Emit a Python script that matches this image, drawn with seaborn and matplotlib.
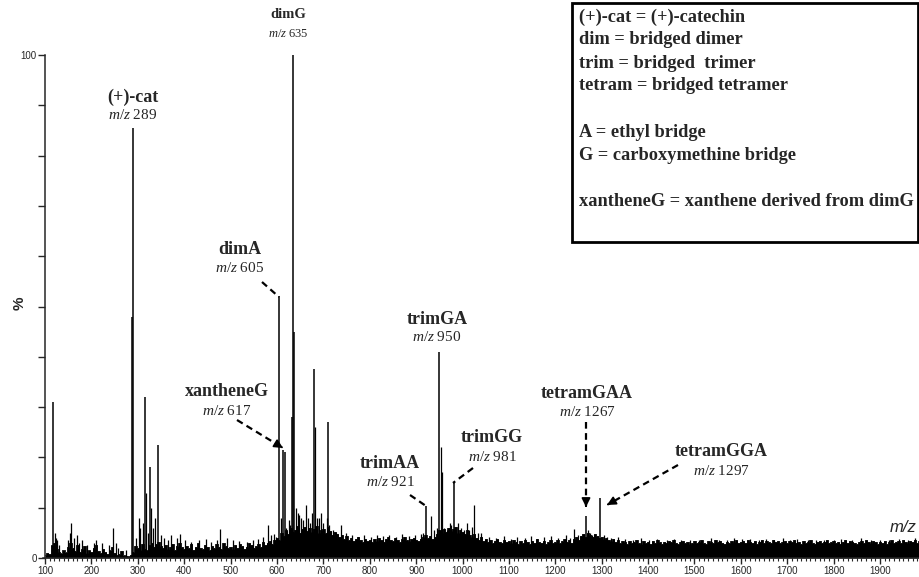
import numpy as np
import pandas as pd
import matplotlib
matplotlib.use("Agg")
import matplotlib.pyplot as plt
import seaborn as sns
from matplotlib.patches import Rectangle

# ---------------- data ----------------
# main labelled / prominent peaks (m/z, relative intensity %)
peak_mz = [118, 288, 289, 316, 326, 343, 605, 613, 617, 633, 635, 636, 679, 709, 921, 950, 981, 1267, 1297]
peak_int = [31, 48, 85.5, 32, 18, 22.5, 52, 21.5, 21, 28, 100, 45, 37.5, 27, 10.3, 41, 15, 8.3, 12]

# minor spikes
minor_mz = [122, 124, 126, 131, 150, 153, 155, 163, 168, 174, 180, 190, 205, 209, 222, 238, 247, 252, 258, 275,
            296, 302, 305, 312, 318, 322, 329, 333, 338, 350, 356, 365, 372, 384, 392, 401, 415, 432, 446, 458,
            470, 477, 492, 505, 518, 535, 548, 560, 570, 581, 588, 594, 599, 609, 620, 625, 628, 641, 645, 648,
            652, 656, 663, 667, 672, 676, 681, 686, 691, 694, 699, 707, 713, 720, 728, 737, 748, 762, 775, 788,
            803, 815, 828, 842, 856, 870, 884, 897, 910, 915, 933, 938, 944, 953, 956, 961, 966, 972, 976, 986,
            990, 996, 1003, 1009, 1015, 1020, 1025, 1033, 1040, 1058, 1072, 1090, 1105, 1118, 1134, 1148, 1160, 1175, 1190, 1205,
            1222, 1231, 1240, 1248, 1255, 1262, 1270, 1275, 1280, 1287, 1292, 1305, 1312, 1320, 1335, 1350, 1368, 1385, 1402, 1420,
            1440, 1455, 1470, 1490, 1510, 1535, 1552, 1570, 1585, 1602, 1620, 1640, 1655, 1672, 1690, 1705, 1722, 1745, 1762, 1780,
            1800, 1815, 1840, 1860, 1880, 1900, 1920, 1940, 1960, 1975]
minor_int = [5, 4, 3.5, 2.5, 3.5, 5, 7, 4, 4.5, 3, 3.5, 2.5, 3, 3.5, 3, 2.5, 6, 3, 2, 1.5,
             4, 8, 6, 7, 13, 5, 10, 6, 8, 4.5, 4, 3.5, 4.5, 4, 4.8, 3.5, 3.2, 3.5, 3.8, 3.2,
             3.5, 5.8, 4, 3.6, 3.4, 3.2, 3.6, 3.8, 4.2, 6.6, 4.5, 4.8, 4.2, 8, 6, 7.5, 6.5, 10, 9, 8.5,
             8, 7.5, 10.5, 8, 7, 9, 26, 8, 8, 9, 7, 8, 6.5, 5.5, 5, 6.6, 5, 4.5, 4.2, 4.6,
             4.2, 4.5, 4.4, 4.6, 4.2, 4.8, 4.4, 4.6, 4.8, 5, 8.3, 5.5, 6, 22, 17, 6, 5.6, 7, 6.5, 6,
             7, 6, 5.5, 7, 5.6, 6.2, 10.5, 5, 5, 4.2, 4, 4.4, 3.8, 4.2, 4, 4.4, 3.8, 4.2, 4.3, 4,
             4.5, 4, 5.8, 4.6, 4.4, 4.8, 5.5, 5, 4.6, 4.2, 4.4, 4.5, 4.2, 4, 4.2, 3.8, 3.6, 3.9, 3.6, 3.7,
             3.5, 3.8, 3.5, 3.6, 3.5, 4, 3.6, 3.5, 3.9, 3.7, 3.8, 3.6, 3.8, 3.5, 3.9, 3.6, 3.7, 3.5, 3.6, 3.5,
             3.6, 3.8, 3.6, 3.9, 3.5, 3.6, 3.5, 3.8, 3.6, 3.9]

# chemical noise envelope, every 5 m/z starting at 100
noise_start = 100
noise_step = 5
noise_int = [
    0.6, 1.0, 0.8, 2.5, 3.0, 1.8, 1.2, 0.9, 1.5, 1.1, 2.2, 3.0, 2.0, 1.4, 2.6, 1.2, 1.8, 2.4, 1.0, 1.5,
    1.2, 2.0, 2.6, 1.4, 1.0, 1.8, 1.2, 0.8, 1.5, 2.2, 1.0, 0.6, 0.8, 1.4, 0.5, 0.4, 0.3, 0.6, 1.2, 2.4,
    2.0, 1.6, 2.8, 1.8, 1.5, 2.5, 3.0, 2.2, 2.8, 3.2, 2.4, 2.0, 2.6, 1.8, 2.2, 2.8, 1.6, 2.4, 3.0, 2.2,
    1.8, 2.4, 2.0, 2.8, 1.6, 2.2, 3.0, 2.0, 1.8, 2.6, 2.2, 1.6, 2.4, 2.0, 2.8, 2.2, 1.8, 3.0, 2.4, 2.0,
    2.2, 1.8, 2.6, 2.0, 2.8, 2.4, 1.8, 2.2, 3.0, 2.6, 2.0, 2.4, 2.8, 2.2, 3.2, 2.6, 3.0, 3.4, 2.8, 3.6,
    4.0, 3.6, 5.0, 4.4, 5.5, 4.8, 6.0, 5.2, 5.6, 6.4, 5.0, 5.8, 6.2, 5.4, 6.0, 5.2, 5.8, 6.4, 5.0, 5.6,
    5.8, 5.0, 6.2, 5.4, 4.6, 5.2, 4.8, 4.2, 4.6, 3.8, 4.4, 3.6, 4.0, 3.4, 3.8, 4.2, 3.6, 3.2, 3.8, 3.4,
    3.6, 3.2, 3.8, 3.4, 4.0, 3.6, 3.2, 3.8, 4.2, 3.6, 3.4, 4.0, 3.6, 3.2, 3.8, 4.2, 3.6, 3.4, 3.8, 4.0,
    3.6, 3.4, 3.8, 4.2, 4.6, 4.0, 4.4, 3.8, 4.2, 4.8, 5.6, 5.0, 5.8, 5.2, 6.0, 5.4, 5.8, 6.2, 5.0, 5.6,
    5.2, 4.8, 5.6, 4.6, 4.2, 4.8, 4.0, 3.6, 4.2, 3.4, 3.8, 3.2, 3.6, 3.0, 3.4, 3.8, 3.2, 3.0, 3.6, 3.2,
    3.4, 3.0, 3.6, 3.2, 2.8, 3.4, 3.0, 3.6, 3.2, 2.8, 3.4, 3.0, 3.8, 3.2, 3.0, 3.4, 2.8, 3.2, 3.6, 3.0,
    3.2, 3.6, 3.0, 3.4, 3.8, 3.2, 3.6, 3.0, 3.8, 4.2, 3.6, 4.4, 4.8, 4.2, 5.0, 4.6, 4.2, 4.8, 4.4, 4.0,
    4.2, 3.8, 4.0, 3.6, 3.4, 3.8, 3.2, 3.6, 3.0, 3.4, 3.2, 2.8, 3.4, 3.0, 3.2, 3.6, 3.0, 2.8, 3.4, 3.0,
    3.2, 2.8, 3.4, 3.0, 3.6, 3.2, 2.8, 3.2, 3.0, 3.4, 3.2, 3.6, 3.0, 2.8, 3.2, 3.4, 3.0, 3.2, 2.8, 3.0,
    3.4, 3.0, 3.2, 3.6, 3.0, 2.8, 3.4, 3.2, 3.0, 3.6, 3.2, 3.4, 3.0, 2.8, 3.2, 3.0, 3.4, 3.2, 3.6, 3.0,
    3.2, 3.4, 3.0, 3.6, 3.2, 3.0, 3.4, 2.8, 3.2, 3.6, 3.0, 3.4, 3.2, 3.0, 3.6, 3.2, 3.4, 3.0, 3.2, 3.4,
    3.0, 3.4, 3.2, 3.6, 3.0, 3.2, 2.8, 3.4, 3.0, 3.2, 3.6, 3.0, 2.8, 3.2, 3.4, 3.0, 3.2, 3.6, 3.0, 3.2,
    3.4, 3.0, 3.2, 2.8, 3.2, 3.6, 3.0, 3.4, 3.2, 3.0, 2.8, 3.2, 3.4, 3.0, 3.6, 3.2, 3.0, 3.4, 3.2, 2.8,
    3.2, 3.0, 3.4, 2.8, 3.2, 3.6, 3.0, 3.2, 3.4, 3.0, 3.6, 3.2, 3.0, 3.4, 3.2, 3.6, 3.0, 3.4,
]

x_ticks = [100, 200, 300, 400, 500, 600, 700, 800, 900, 1000, 1100, 1200, 1300, 1400, 1500, 1600, 1700, 1800, 1900]
y_tick_labels = {0: "0", 100: "100"}

label_names = ["(+)-cat", "dimG", "dimA", "xantheneG", "trimGA", "trimAA", "trimGG", "tetramGAA", "tetramGGA"]
label_mz = ["289", "635", "605", "617", "950", "921", "981", "1267", "1297"]

legend_lines = ["(+)-cat = (+)-catechin", "dim = bridged dimer", "trim = bridged  trimer",
                "tetram = bridged tetramer", "", "A = ethyl bridge", "G = carboxymethine bridge", "",
                "xantheneG = xanthene derived from dimG"]

# ---------------- style ----------------
sns.set_theme(style="ticks")
plt.rcParams.update({
    "font.family": ["Liberation Sans", "DejaVu Sans"],
    "mathtext.fontset": "custom",
    "mathtext.it": "Liberation Serif:italic",
    "mathtext.rm": "Liberation Serif",
    "axes.linewidth": 1.1,
})

W, H = 919, 577
fig = plt.figure(figsize=(W / 100, H / 100), dpi=100)
fig.patch.set_facecolor("white")
ax = fig.add_axes([45 / W, 19 / H, 874 / W, 503 / H])
ax.set_facecolor("white")

noise_mz = noise_start + noise_step * np.arange(len(noise_int))
noise_df = pd.DataFrame({"mz": noise_mz, "intensity": noise_int})

ax.fill_between(noise_df["mz"], 0, noise_df["intensity"], step="mid", color="black", lw=0)
sns.lineplot(data=noise_df, x="mz", y="intensity", ax=ax, color="black", lw=0.6,
             drawstyle="steps-mid", legend=False)
ax.vlines(minor_mz, 0, minor_int, color="black", lw=0.9)
ax.vlines(peak_mz, 0, peak_int, color="black", lw=1.1)

ax.set_xlim(100, 1984)
ax.set_ylim(0, 100)
sns.despine(ax=ax)
ax.spines["bottom"].set_bounds(96, 1984)

ax.set_xticks(x_ticks)
ax.set_xticklabels([str(t) for t in x_ticks])
ax.set_xticks(list(range(110, 1984, 10)), minor=True)
yt = list(range(0, 101, 10))
ax.set_yticks(yt)
ax.set_yticklabels([y_tick_labels.get(t, "") for t in yt])
ax.tick_params(axis="x", which="major", direction="out", length=4, width=1.0, labelsize=7, pad=2)
ax.tick_params(axis="x", which="minor", direction="out", length=2, width=0.8)
ax.tick_params(axis="y", which="major", direction="out", length=5, width=1.0, labelsize=7, pad=1)
for lab in ax.get_xticklabels() + ax.get_yticklabels():
    lab.set_fontfamily("Liberation Sans")
ax.set_xlabel("")
ax.set_ylabel("")

fig.text(20 / W, 1 - 303 / H, "%", rotation=90, ha="center", va="center",
         fontsize=11, fontweight="bold", family="Liberation Sans")
fig.text(890 / W, 1 - 527 / H, "m/z", ha="left", va="center", fontsize=12,
         style="italic", family="Liberation Sans")

# ---------------- annotations ----------------
def px2data(px, py):
    return 100 + (px - 45) / (874 / 1884), (558 - py) / 5.03

label_layout = [
    # (text centre px, name y px, m/z y px, name size, mz size)
    (132.5, 97, 115, 13, 11),
    (288, 14, 34, 10.5, 9),
    (240, 249, 268, 13, 11),
    (227, 392, 411, 13, 11),
    (437, 320, 337, 13, 11),
    (390, 463, 482, 13, 11),
    (492, 438, 457, 13, 11),
    (587, 393, 412, 13, 11),
    (721, 452, 471, 13, 11),
]
for name, mz, (cx, ny, my, ns, ms) in zip(label_names, label_mz, label_layout):
    x, yn = px2data(cx, ny)
    _, ym = px2data(cx, my)
    ax.text(x, yn, name, ha="center", va="center", family="Liberation Serif",
            fontweight="bold", fontsize=ns, clip_on=False)
    ax.text(x, ym, r"$\it{m/z}$ " + mz, ha="center", va="center", family="Liberation Serif",
            fontsize=ms, clip_on=False)

leaders = [
    # (start px, end px, arrowhead)
    ((262, 282), (279, 297), False),
    ((237, 420), (283, 448), True),
    ((410, 495), (426, 506), False),
    ((473, 468), (453, 483), False),
    ((586, 422), (586, 507), True),
    ((678, 465), (607, 505), True),
]
for (sx, sy), (ex, ey), head in leaders:
    x0, y0 = px2data(sx, sy)
    x1, y1 = px2data(ex, ey)
    if head:
        xm, ym = px2data(ex - 0.14 * (ex - sx) * 85 / max(abs(ex - sx), abs(ey - sy), 1) * 0.12 / 0.12 * 0.1 * 10 / 10,
                         ey - 0.14 * (ey - sy) * 85 / max(abs(ex - sx), abs(ey - sy), 1) * 0.1)
        ax.plot([x0, xm], [y0, ym], color="black", lw=1.6, ls=(0, (3, 2)), clip_on=False)
        ax.annotate("", xy=(x1, y1), xytext=(xm, ym),
                    arrowprops=dict(arrowstyle="-|>", color="black", lw=1.2, mutation_scale=13,
                                    shrinkA=0, shrinkB=0))
    else:
        ax.plot([x0, x1], [y0, y1], color="black", lw=1.6, ls=(0, (3, 2)), clip_on=False)

# ---------------- legend box ----------------
box = Rectangle((572 / W, 1 - 242 / H), (918 - 572) / W, (242 - 3) / H, transform=fig.transFigure,
                fill=True, facecolor="white", edgecolor="black", lw=2.0, zorder=5)
fig.patches.append(box)
line_y = [17, 40, 63, 86, 109, 132, 155, 178, 202]
for txt, yy in zip(legend_lines, line_y):
    if txt:
        fig.text(579 / W, 1 - yy / H, txt, ha="left", va="center", family="Liberation Serif",
                 fontweight="bold", fontsize=13.2, zorder=6)

fig.savefig("out.png", dpi=100, facecolor="white")
